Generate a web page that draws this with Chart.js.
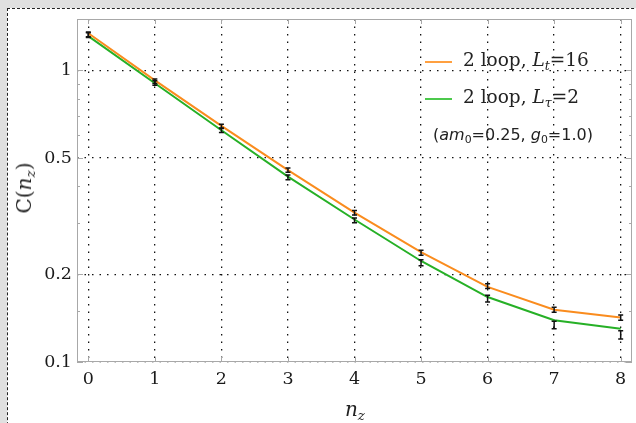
<!DOCTYPE html>
<html>
<head>
<meta charset="utf-8">
<script src="https://cdn.jsdelivr.net/npm/chart.js@4.4.1/dist/chart.umd.min.js"></script>
<style>
html, body { margin: 0; padding: 0; width: 636px; height: 423px; overflow: hidden; background: #e0e0e0; }
#frame { position: absolute; left: 7px; top: 8px; width: 700px; height: 500px; background: #fff; border: 1px dashed #222; }
#c { position: absolute; left: 0; top: 0; }
.lab { position: absolute; white-space: nowrap; color: #222; }
.serif { font-family: "DejaVu Serif", serif; font-size: 18.5px; }
.sans { font-family: "DejaVu Sans", sans-serif; font-size: 16px; }
.sub { font-size: 0.68em; position: relative; top: 0.3em; }
.key { position: absolute; width: 27px; height: 1.5px; }
</style>
</head>
<body>
<div id="frame"></div>
<canvas id="c" width="636" height="423"></canvas>

<div class="key" style="left:425px; top:61px; background:#ffa040;"></div>
<div class="lab serif" style="left:463px; top:49px;">2 loop, <i>L</i><i class="sub">t</i>=16</div>
<div class="key" style="left:425px; top:98px; background:#4cc94c;"></div>
<div class="lab serif" style="left:463px; top:86px;">2 loop, <i>L</i><i class="sub">τ</i>=2</div>
<div class="lab sans" style="left:433px; top:125px;">(<i>am</i><span class="sub">0</span>=0.25, <i>g</i><span class="sub">0</span>=1.0)</div>

<div class="lab serif" style="left:24px; top:188px; font-size:20px; transform: translate(-50%, -50%) rotate(-90deg);">C(<i>n</i><i class="sub">z</i>)</div>
<div class="lab serif" style="left:355px; top:409px; font-size:20px; transform: translate(-50%, -50%);"><i>n</i><i class="sub">z</i></div>

<script>
// values
const nz = [0, 1, 2, 3, 4, 5, 6, 7, 8];
const loopLt16 = [1.34, 0.924, 0.645, 0.455, 0.325, 0.238, 0.181, 0.151, 0.142];
const loopLtau2 = [1.31, 0.903, 0.623, 0.432, 0.308, 0.222, 0.167, 0.139, 0.130];
const dataLt16 = [1.33, 0.918, 0.643, 0.455, 0.325, 0.237, 0.182, 0.151, 0.142];
const errLt16 = [0.025, 0.016, 0.011, 0.008, 0.006, 0.0045, 0.0035, 0.003, 0.003];
const dataLtau2 = [1.32, 0.905, 0.623, 0.430, 0.306, 0.219, 0.165, 0.134, 0.124];
const errLtau2 = [0.025, 0.016, 0.011, 0.008, 0.006, 0.005, 0.0045, 0.004, 0.004];
const yTicks = [0.1, 0.2, 0.5, 1];
const yMinor = [0.15, 0.3, 0.4, 0.6, 0.7, 0.8, 0.9];

const orange = '#fa8c1e';
const green = '#26b026';

function pts(ys) {
    return nz.map(function (x, i) { return { x: x, y: ys[i] }; });
}

// frame and inward ticks round the plot area
const framePlugin = {
    id: 'frame',
    afterDatasetsDraw: function (chart) {
        const ctx = chart.ctx, a = chart.chartArea;
        const xs = chart.scales.x, ys = chart.scales.y;
        ctx.save();
        ctx.strokeStyle = '#a8a8a8';
        ctx.lineWidth = 1;
        ctx.strokeRect(a.left + 0.5, a.top + 0.5, a.right - a.left - 1, a.bottom - a.top - 1);
        ctx.beginPath();
        yTicks.forEach(function (v) {
            const y = Math.round(ys.getPixelForValue(v)) + 0.5;
            ctx.moveTo(a.left, y); ctx.lineTo(a.left + 6, y);
            ctx.moveTo(a.right, y); ctx.lineTo(a.right - 6, y);
        });
        yMinor.forEach(function (v) {
            const y = Math.round(ys.getPixelForValue(v)) + 0.5;
            ctx.moveTo(a.left, y); ctx.lineTo(a.left + 3, y);
            ctx.moveTo(a.right, y); ctx.lineTo(a.right - 3, y);
        });
        nz.forEach(function (v) {
            const x = Math.round(xs.getPixelForValue(v)) + 0.5;
            ctx.moveTo(x, a.bottom); ctx.lineTo(x, a.bottom - 5);
            ctx.moveTo(x, a.top); ctx.lineTo(x, a.top + 5);
        });
        ctx.stroke();
        ctx.restore();
    }
};

// black error bars for datasets that carry an errors array
const errorBarPlugin = {
    id: 'errorBars',
    afterDatasetsDraw: function (chart) {
        const ctx = chart.ctx;
        const xs = chart.scales.x, ys = chart.scales.y;
        ctx.save();
        ctx.strokeStyle = '#111';
        ctx.lineWidth = 1.5;
        chart.data.datasets.forEach(function (ds) {
            if (!ds.errors) return;
            ds.data.forEach(function (p, i) {
                const e = ds.errors[i];
                const x = xs.getPixelForValue(p.x);
                const y1 = ys.getPixelForValue(p.y - e);
                const y2 = ys.getPixelForValue(p.y + e);
                ctx.beginPath();
                ctx.moveTo(x, y1); ctx.lineTo(x, y2);
                ctx.moveTo(x - 2.5, y1); ctx.lineTo(x + 2.5, y1);
                ctx.moveTo(x - 2.5, y2); ctx.lineTo(x + 2.5, y2);
                ctx.stroke();
            });
        });
        ctx.restore();
    }
};

new Chart(document.getElementById('c').getContext('2d'), {
    type: 'scatter',
    data: {
        datasets: [
            {
                label: '2 loop, Lt=16',
                data: pts(loopLt16),
                showLine: true,
                borderColor: orange,
                borderWidth: 2,
                pointRadius: 0,
                tension: 0
            },
            {
                label: '2 loop, Ltau=2',
                data: pts(loopLtau2),
                showLine: true,
                borderColor: green,
                borderWidth: 2,
                pointRadius: 0,
                tension: 0
            },
            {
                label: 'data Lt=16',
                data: pts(dataLt16),
                errors: errLt16,
                pointRadius: 0
            },
            {
                label: 'data Ltau=2',
                data: pts(dataLtau2),
                errors: errLtau2,
                pointRadius: 0
            }
        ]
    },
    options: {
        responsive: false,
        animation: false,
        layout: { padding: { top: 19, right: 4, left: 0, bottom: 0 } },
        plugins: {
            legend: { display: false },
            tooltip: { enabled: false }
        },
        scales: {
            x: {
                type: 'linear',
                min: -0.17,
                max: 8.17,
                afterBuildTicks: function (scale) {
                    scale.ticks = nz.map(function (v) { return { value: v }; });
                },
                afterFit: function (scale) { scale.height = 61; },
                grid: { color: '#111', lineWidth: 1.3, drawTicks: false },
                border: { display: false, dash: [1.5, 6] },
                ticks: {
                    padding: 7,
                    color: '#1a1a1a',
                    font: { family: 'DejaVu Serif', size: 17.5 },
                    callback: function (v) { return String(v); }
                }
            },
            y: {
                type: 'logarithmic',
                min: 0.1,
                max: 1.5,
                afterBuildTicks: function (scale) {
                    scale.ticks = yTicks.map(function (v) { return { value: v }; });
                },
                afterFit: function (scale) { scale.width = 77; },
                grid: { color: '#111', lineWidth: 1.3, drawTicks: false },
                border: { display: false, dash: [1.5, 6] },
                ticks: {
                    padding: 5,
                    color: '#1a1a1a',
                    font: { family: 'DejaVu Serif', size: 17.5 },
                    callback: function (v) { return String(v); }
                }
            }
        }
    },
    plugins: [framePlugin, errorBarPlugin]
});
</script>
</body>
</html>
